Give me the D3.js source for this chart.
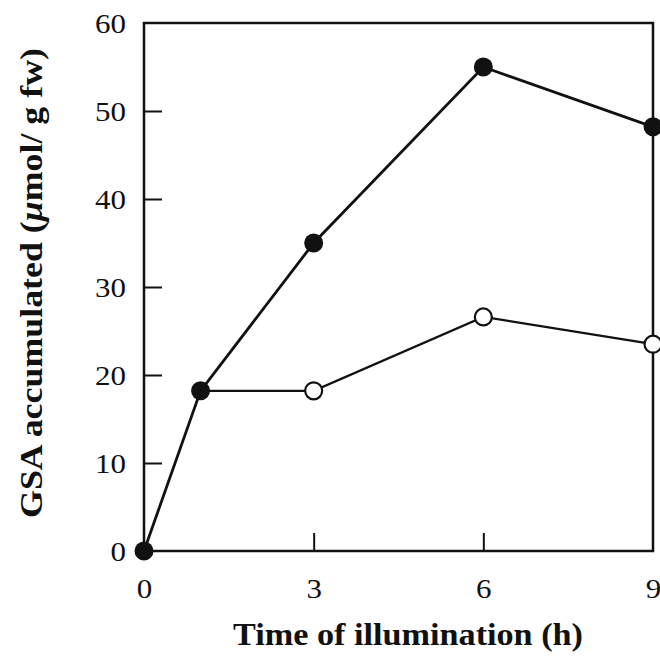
<!DOCTYPE html>
<html>
<head>
<meta charset="utf-8">
<script src="https://cdn.jsdelivr.net/npm/d3@7"></script>
<style>
  html, body { margin: 0; padding: 0; background: #fff; }
  svg { display: block; }
</style>
</head>
<body>
<script>
// Data
const filledX = [0, 1, 3, 6, 9];
const filledY = [0, 18.2, 35, 55, 48.2];
const openX = [1, 3, 6, 9];
const openY = [18.2, 18.2, 26.6, 23.5];
const xTicks = [0, 3, 6, 9];
const yTicks = [0, 10, 20, 30, 40, 50, 60];
const xTitle = "Time of illumination (h)";

const W = 660, H = 665;
const m = { left: 144, right: 7, top: 23, bottom: 114 };

const svg = d3.select("body").append("svg").attr("width", W).attr("height", H);

const x = d3.scaleLinear().domain([0, 9]).range([m.left, W - m.right]);
const y = d3.scaleLinear().domain([0, 60]).range([H - m.bottom, m.top]);

const serif = "'Liberation Serif', 'Times New Roman', serif";

// Frame
svg.append("rect")
  .attr("x", x(0)).attr("y", y(60))
  .attr("width", x(9) - x(0)).attr("height", y(0) - y(60))
  .attr("fill", "none").attr("stroke", "#111").attr("stroke-width", 2.5);

// Y axis
const yAxis = svg.append("g").attr("transform", `translate(${x(0)},0)`)
  .call(d3.axisLeft(y).tickValues(yTicks).tickSizeInner(-18).tickSizeOuter(0).tickPadding(8));
yAxis.select(".domain").remove();
yAxis.selectAll(".tick line").attr("stroke", "#111").attr("stroke-width", 2);
yAxis.selectAll(".tick").filter(d => d === 0 || d === 60).select("line").remove();
yAxis.selectAll(".tick text")
  .attr("x", -18).attr("dy", "0.34em")
  .style("font-family", serif).style("font-size", "27px").attr("fill", "#111")
  .attr("textLength", d => String(d).length * 15.5).attr("lengthAdjust", "spacingAndGlyphs");

// X axis
const xAxis = svg.append("g").attr("transform", `translate(0,${y(0)})`)
  .call(d3.axisBottom(x).tickValues(xTicks).tickSizeInner(-18).tickSizeOuter(0).tickPadding(0));
xAxis.select(".domain").remove();
xAxis.selectAll(".tick line").attr("stroke", "#111").attr("stroke-width", 2);
xAxis.selectAll(".tick").filter(d => d === 0 || d === 9).select("line").remove();
xAxis.selectAll(".tick text")
  .attr("y", 47).attr("dy", 0)
  .style("font-family", serif).style("font-size", "27px").attr("fill", "#111")
  .attr("textLength", 15.5).attr("lengthAdjust", "spacingAndGlyphs");

// Lines
const line = d3.line().x(d => x(d[0])).y(d => y(d[1]));
const filled = filledX.map((v, i) => [v, filledY[i]]);
const open = openX.map((v, i) => [v, openY[i]]);

svg.append("path").datum(open).attr("d", line)
  .attr("fill", "none").attr("stroke", "#111").attr("stroke-width", 2.2);
svg.append("path").datum(filled).attr("d", line)
  .attr("fill", "none").attr("stroke", "#111").attr("stroke-width", 2.8);

svg.selectAll("circle.open").data(open.slice(1)).enter().append("circle")
  .attr("class", "open")
  .attr("cx", d => x(d[0])).attr("cy", d => y(d[1])).attr("r", 8.5)
  .attr("fill", "#fff").attr("stroke", "#111").attr("stroke-width", 2.2);
svg.selectAll("circle.filled").data(filled).enter().append("circle")
  .attr("class", "filled")
  .attr("cx", d => x(d[0])).attr("cy", d => y(d[1])).attr("r", 9.5)
  .attr("fill", "#111");

// Axis titles
svg.append("text")
  .attr("x", 408).attr("y", 645)
  .attr("text-anchor", "middle")
  .style("font-family", serif).style("font-size", "32px").style("font-weight", "bold")
  .attr("fill", "#111")
  .attr("textLength", 350).attr("lengthAdjust", "spacingAndGlyphs")
  .text(xTitle);

const yt = svg.append("text")
  .attr("transform", `translate(42,283) rotate(-90)`)
  .attr("text-anchor", "middle")
  .style("font-family", serif).style("font-size", "32px").style("font-weight", "bold")
  .attr("fill", "#111")
  .attr("textLength", 470).attr("lengthAdjust", "spacingAndGlyphs");
yt.append("tspan").text("GSA accumulated (");
yt.append("tspan").style("font-style", "italic").text("μ");
yt.append("tspan").text("mol/ g fw)");
</script>
</body>
</html>
